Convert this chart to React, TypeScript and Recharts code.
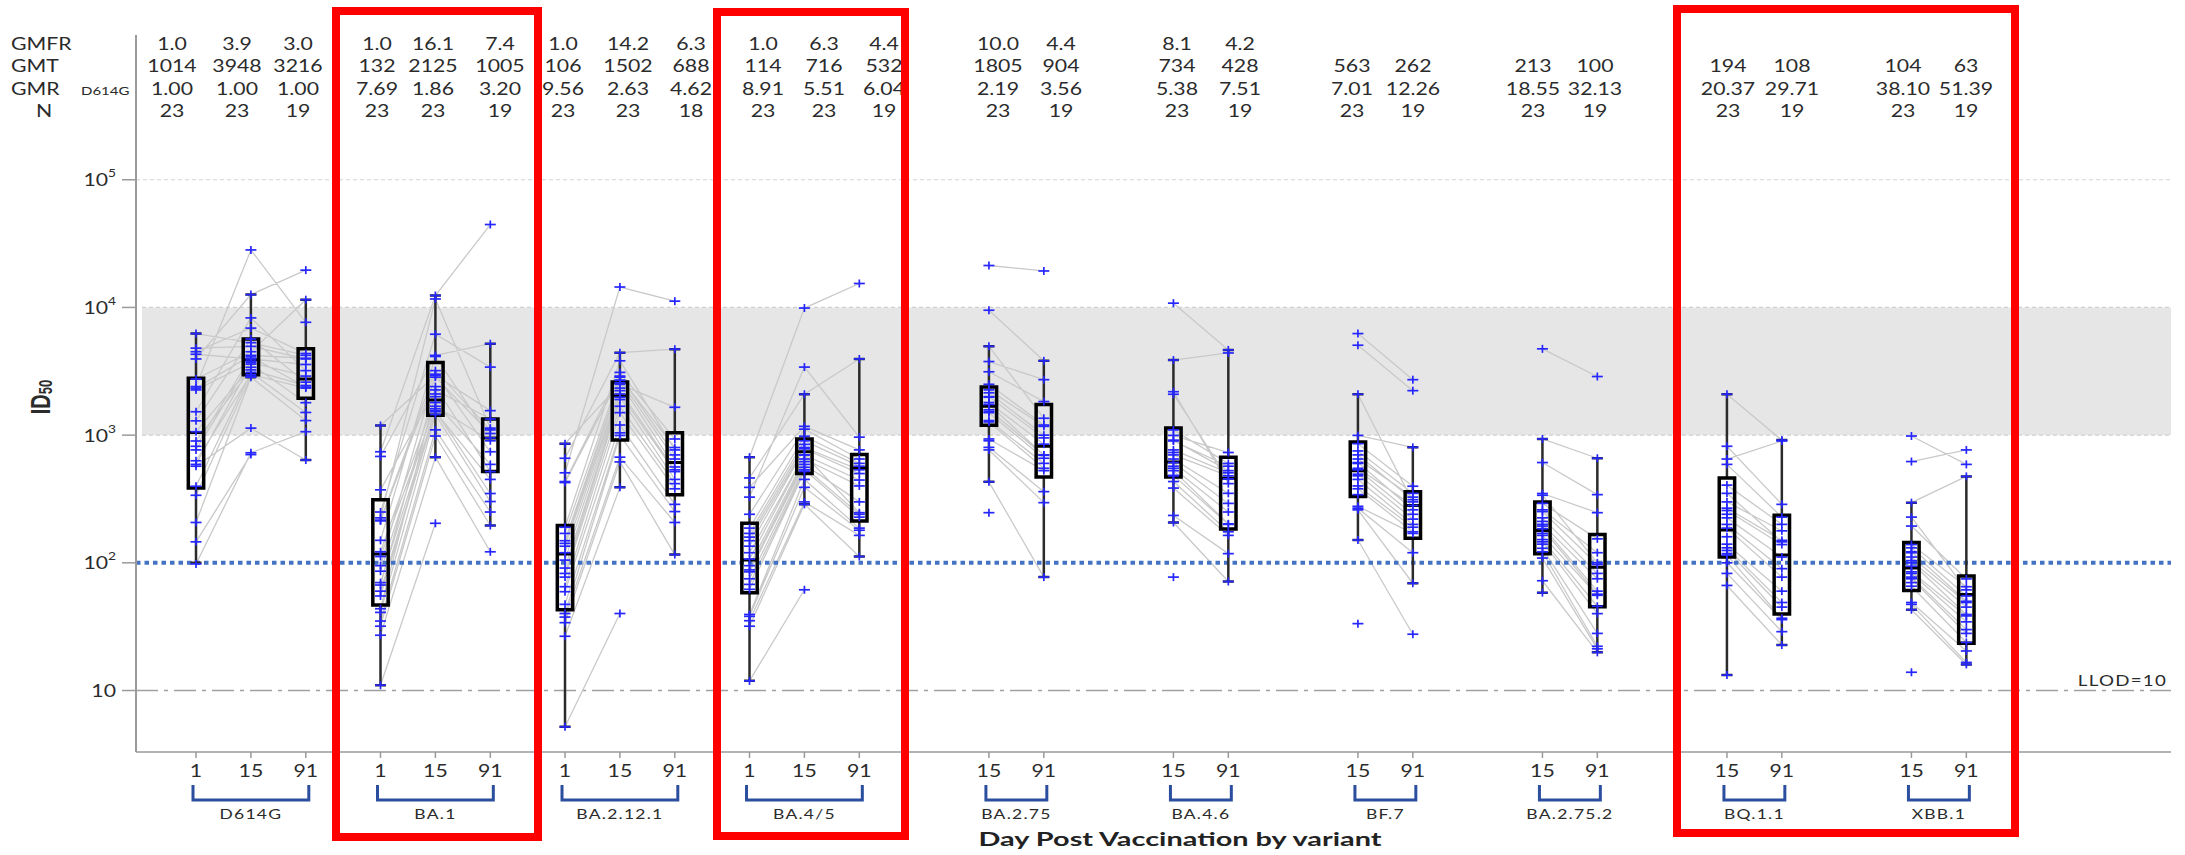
import React from 'react';
import { ComposedChart, XAxis, YAxis, Line, Scatter, Area } from 'recharts';

// variants and the days sampled for each one
const VARIANTS = ['D614G', 'BA.1', 'BA.2.12.1', 'BA.4/5', 'BA.2.75', 'BA.4.6', 'BF.7', 'BA.2.75.2', 'BQ.1.1', 'XBB.1'];
const DAYS = [[1, 15, 91], [1, 15, 91], [1, 15, 91], [1, 15, 91], [15, 91], [15, 91], [15, 91], [15, 91], [15, 91], [15, 91]];

// header table
const GMFR = [['1.0', '3.9', '3.0'], ['1.0', '16.1', '7.4'], ['1.0', '14.2', '6.3'], ['1.0', '6.3', '4.4'], ['10.0', '4.4'], ['8.1', '4.2'], ['', ''], ['', ''], ['', ''], ['', '']];
const GMT = [['1014', '3948', '3216'], ['132', '2125', '1005'], ['106', '1502', '688'], ['114', '716', '532'], ['1805', '904'], ['734', '428'], ['563', '262'], ['213', '100'], ['194', '108'], ['104', '63']];
const GMR = [['1.00', '1.00', '1.00'], ['7.69', '1.86', '3.20'], ['9.56', '2.63', '4.62'], ['8.91', '5.51', '6.04'], ['2.19', '3.56'], ['5.38', '7.51'], ['7.01', '12.26'], ['18.55', '32.13'], ['20.37', '29.71'], ['38.10', '51.39']];
const N_COUNT = [['23', '23', '19'], ['23', '23', '19'], ['23', '23', '18'], ['23', '23', '19'], ['23', '19'], ['23', '19'], ['23', '19'], ['23', '19'], ['23', '19'], ['23', '19']];

// box stats per variant/day: [min, q1, median, q3, max]
const BOXES = [
  [[100, 385, 1050, 2790, 6240], [2845, 2975, 3900, 5660, 12600], [638, 1945, 2750, 4740, 11500]],
  [[11, 46.7, 117, 312, 1190], [672, 1428, 1880, 3700, 12400], [196, 518, 951, 1337, 5200]],
  [[5.2, 42.9, 117, 196, 857], [390, 916, 2036, 2612, 4420], [116, 342, 610, 1042, 4710]],
  [[11.9, 58.4, 105, 204, 672], [287, 500, 741, 933, 2090], [112, 213, 552, 704, 3950]],
  [[431, 1197, 1683, 2380, 4960], [77.3, 469, 818, 1738, 3820]],
  [[207, 469, 617, 1135, 3870], [71.4, 184, 459, 672, 4650]],
  [[151, 331, 527, 885, 2090], [69.2, 156, 281, 361, 802]],
  [[58.4, 118, 179, 300, 933], [19.9, 45.2, 92.2, 167, 659]],
  [[13.2, 111, 181, 462, 2090], [22.7, 39.7, 115, 236, 914]],
  [[42.9, 60.7, 91, 144, 296], [16.0, 23.4, 56.4, 78.9, 475]],
];

// individual subjects (ID50 per day), null = not sampled
const D614G_SUBJ = [
  [6240, 5300, 4215], [4800, 4960, 3950], [4500, 6890, 4355], [4300, 3950, 3575], [3950, 12600, 19600],
  [2750, 4500, 11500], [2400, 28200, 7650], [2335, 4215, 4000], [2260, 3700, 2900], [1525, 8280, 3200],
  [1294, 5660, 2600], [1064, 3400, null], [900, 3245, 2445], [818, 4100, 2380], [766, 3800, null],
  [630, 2980, 2335], [590, 3600, 1795], [571, 1135, 638], [398, 3100, 1505], [338, 2900, null],
  [207, 2845, 1300], [146, 704, null], [98, 727, 1064],
];
const BA1_SUBJ = [
  [1190, 2935, 1555], [741, 12400, 44600], [681, 4215, 5200], [373, 2260, 1337], [250, 6170, 3410],
  [225, 11650, 1135], [216, 3200, 1099], [213, 2845, 1030], [150, 4130, 951], [122, 2000, null],
  [112, 1683, 903], [95, 3000, 741], [86, 1800, 590], [70, 1607, null], [67, 2400, 518],
  [60, 1525, 450], [55, 1550, 349], [43.7, 2100, null], [40.9, 1450, 302], [35, 1100, 250],
  [31.9, 984, 196], [27.1, 672, 122], [11, 204, null],
];
const BA2121_SUBJ = [
  [857, 2500, 1652], [659, 4420, 4710], [507, 14450, 11200], [433, 3100, 933], [425, 2845, 800],
  [190, 3820, 766], [170, 2900, 700], [149, 2700, 650], [142, 2577, 563], [135, 2335, null],
  [120, 2230, 535], [105, 2100, 518], [91, 1982, 450], [82.6, 1900, null], [77.3, 1683, 417],
  [65, 1500, 380], [59.4, 1200, 287], [47.3, 1042, null], [40.1, 995, 252], [37.6, 672, 207],
  [34, 617, 116], [26.6, 390, null], [5.2, 40.1, null],
];
const BA45_SUBJ = [
  [672, 9890, 15400], [462, 2090, 3950], [390, 1172, 766], [327, 3410, 964], [240, 1114, 650],
  [187, 980, 601], [170, 903, 571], [159, 846, null], [149, 800, 535], [135, 782, 500],
  [120, 700, 445], [107, 700, 247], [95, 650, 400], [88, 620, null], [85, 590, 300],
  [75, 560, 240], [67.8, 535, 228], [62, 520, null], [39.4, 450, 187], [38.1, 390, 180],
  [35.2, 300, 164], [31.9, 287, 112], [11.9, 61.5, null],
];
const BA275_SUBJ = [
  [21300, 19300], [9510, 3820], [4960, 1356], [3770, 2718], [3135, 1832], [2500, 1200], [2260, 1172],
  [2145, 1000], [2000, 951], [1982, null], [1800, 850], [1738, 700], [1577, 695], [1525, null],
  [1500, 659], [1300, 601], [1269, 550], [933, 527], [903, null], [802, 361], [766, 296], [431, 77.3], [247, null],
];
const BA46_SUBJ = [
  [10800, 4650], [3870, 4400], [2188, 417], [2090, 454], [1099, 600], [995, 731], [914, 527],
  [900, 571], [766, 507], [731, null], [700, 480], [650, 350], [610, 292], [571, null],
  [550, 250], [527, 202], [484, 200], [480, null], [433, 175], [385, 164], [235, 118], [207, 71.4], [77.3, null],
];
const BF7_SUBJ = [
  [6240, 2718], [5060, 2230], [2090, 300], [995, 802], [857, 398], [752, 350], [700, 312],
  [650, 327], [610, 260], [600, null], [550, 281], [535, 240], [494, 220], [480, null],
  [450, 200], [400, 190], [380, 175], [342, null], [277, 170], [268, 120], [260, 69.2], [151, 27.6], [33.4, null],
];
const BA2752_SUBJ = [
  [4740, 2877], [933, 659], [610, 342], [349, 247], [338, 100], [292, 154], [260, 120],
  [252, 97], [225, 82.6], [211, null], [200, 75], [194, 60], [185, 56.8], [170, null],
  [164, 55.7], [152, 45.7], [146, 40], [140, null], [130, 28], [122, 22.2], [109, 21.2], [72.4, 19.9], [58.4, null],
];
const BQ11_SUBJ = [
  [2090, 914], [818, 287], [650, 900], [590, 228], [406, 200], [350, 146], [300, 178],
  [268, 150], [257, 139], [240, null], [225, 111], [200, 90], [187, 77.3], [160, null],
  [140, 60], [131, 48.9], [125, 45], [118, null], [115, 36.8], [100, 35.9], [82.6, 28.9], [66.5, 22.7], [13.2, null],
];
const XBB1_SUBJ = [
  [984, 590], [621, 766], [296, 475], [228, 61.4], [194, 74.8], [139, 65], [131, 55],
  [122, 50], [120, null], [111, 48.9], [104, 45], [100, 39.4], [94, null], [85, 38.4],
  [82.6, 34.5], [77.3, 30], [75, 28], [70, null], [65.6, 23.8], [48.9, 20.4], [47.3, 16.6], [42.9, 16.0], [13.9, null],
];
const SUBJECTS = [D614G_SUBJ, BA1_SUBJ, BA2121_SUBJ, BA45_SUBJ, BA275_SUBJ, BA46_SUBJ, BF7_SUBJ, BA2752_SUBJ, BQ11_SUBJ, XBB1_SUBJ];

const Y_TICKS = [10, 100, 1000, 10000, 100000];

// layout
const W = 2185;
const H = 855;
const PLOT_L = 136;
const PLOT_R = 2171;
const PLOT_T = 35;
const PLOT_B = 752;
const U_MIN = -1.0929;
const U_MAX = 35.974;
const GROUP_STEP = 3.3607;
const BAND_START = -0.984;
const Y_DOMAIN = [3.3, 1.36e6];
const BOX_HALF = 0.14;
const CAP_HALF = 0.1;
const SX = 1.25;
const FONT = 'Lato, "Open Sans", sans-serif';
const TEXT = '#2b2b2b';
const HEADER_X = [[172, 237, 298], [377, 433, 500], [563, 628, 691], [763, 824, 884], [998, 1061], [1177, 1240], [1352, 1413], [1533, 1595], [1728, 1792], [1903, 1966]];

const pos = (g: number, i: number) => g * GROUP_STEP + i + (3 - DAYS[g].length);
const toPx = (u: number) => PLOT_L + ((u - U_MIN) / (U_MAX - U_MIN)) * (PLOT_R - PLOT_L);
const key = (u: number) => u.toFixed(3);

const dayLabel = new Map<string, string>();
const xTicks: number[] = [];
DAYS.forEach((days, g) => days.forEach((d, i) => {
  xTicks.push(pos(g, i));
  dayLabel.set(key(pos(g, i)), String(d));
}));

// grey paired lines, one run per subject, broken with nulls
const pairData: any[] = [];
const markerData: any[] = [];
SUBJECTS.forEach((rows, g) => {
  rows.forEach((row) => {
    const pts = row.map((v, i) => (v == null ? null : { x: pos(g, i), y: v })).filter(Boolean) as any[];
    pts.forEach((p) => { pairData.push(p); markerData.push(p); });
    pairData.push({ x: pts[pts.length - 1].x, y: null });
  });
});

const boxData: any[] = [];
const medianData: any[] = [];
const whiskerData: any[] = [];
BOXES.forEach((boxes, g) => boxes.forEach(([mn, q1, md, q3, mx], i) => {
  const u = pos(g, i);
  const a = u - BOX_HALF;
  const b = u + BOX_HALF;
  boxData.push({ x: a, y: q1 }, { x: b, y: q1 }, { x: b, y: q3 }, { x: a, y: q3 }, { x: a, y: q1 }, { x: a, y: null });
  medianData.push({ x: a, y: md }, { x: b, y: md }, { x: b, y: null });
  whiskerData.push(
    { x: u, y: q3 }, { x: u, y: mx }, { x: u, y: null },
    { x: u, y: q1 }, { x: u, y: mn }, { x: u, y: null },
    { x: u - CAP_HALF, y: mx }, { x: u + CAP_HALF, y: mx }, { x: u, y: null },
    { x: u - CAP_HALF, y: mn }, { x: u + CAP_HALF, y: mn }, { x: u, y: null },
  );
}));

const hLine = (y: number, from = U_MIN) => [{ x: from, y }, { x: U_MAX, y }];
const bandData = [{ x: BAND_START, band: [1000, 10000] }, { x: U_MAX, band: [1000, 10000] }];

function T({ x, y, anchor = 'middle', size = 17, weight = 400, fill = TEXT, ls = 0, children }: any) {
  return (
    <text
      transform={`translate(${x} ${y}) scale(${SX} 1)`}
      textAnchor={anchor}
      dominantBaseline="central"
      fontFamily={FONT}
      fontSize={size}
      fontWeight={weight}
      fill={fill}
      letterSpacing={ls}
    >
      {children}
    </text>
  );
}

const XTick = ({ x, y, payload }: any) => (
  <T x={x} y={y + 10} size={17}>{dayLabel.get(key(payload.value))}</T>
);

const YTick = ({ x, y, payload }: any) => {
  const exp = Math.round(Math.log10(payload.value));
  return (
    <T x={x} y={y} anchor="end" size={17}>
      10
      {exp > 1 && <tspan dy={-7} fontSize={11}>{exp}</tspan>}
    </T>
  );
};

const Plus = ({ cx, cy }: any) => (
  <g stroke="#2626ff" strokeWidth={1.7}>
    <line x1={cx - 5.5} y1={cy} x2={cx + 5.5} y2={cy} />
    <line x1={cx} y1={cy - 4} x2={cx} y2={cy + 4} />
  </g>
);

const HEADER_ROWS = [
  { label: 'GMFR', y: 43, values: GMFR },
  { label: 'GMT', y: 65, values: GMT },
  { label: 'GMR', y: 88, values: GMR },
  { label: 'N', y: 110, values: N_COUNT },
];

const RED_BOXES = [
  { left: 332, top: 7, width: 210, height: 834 },
  { left: 713, top: 8, width: 196, height: 832 },
  { left: 1673, top: 5, width: 346, height: 832 },
];

export default function App() {
  return (
    <div style={{ position: 'absolute', left: 0, top: 0, width: W, height: H, overflow: 'hidden', background: '#fff' }}>
      <ComposedChart
        width={W}
        height={H}
        margin={{ top: PLOT_T, right: W - PLOT_R, left: PLOT_L - 60, bottom: H - PLOT_B - 40 }}
      >
        <XAxis
          dataKey="x"
          type="number"
          domain={[U_MIN, U_MAX]}
          allowDataOverflow
          ticks={xTicks}
          interval={0}
          height={40}
          tick={(p: any) => <XTick {...p} />}
          tickSize={6}
          tickLine={{ stroke: '#9a9a9a', strokeWidth: 1.5 }}
          axisLine={{ stroke: '#9a9a9a', strokeWidth: 1.5 }}
        />
        <YAxis
          type="number"
          scale="log"
          domain={Y_DOMAIN}
          allowDataOverflow
          ticks={Y_TICKS}
          interval={0}
          width={60}
          tickSize={14}
          tickMargin={6}
          tick={(p: any) => <YTick {...p} />}
          tickLine={{ stroke: '#9a9a9a', strokeWidth: 1.5 }}
          axisLine={{ stroke: '#9a9a9a', strokeWidth: 2 }}
        />
        <Area data={bandData} dataKey="band" type="linear" stroke="none" fill="#e6e6e6" fillOpacity={1} isAnimationActive={false} dot={false} activeDot={false} />
        <Line data={hLine(100000)} dataKey="y" stroke="#d4d4d4" strokeWidth={1.2} strokeDasharray="4 3" dot={false} activeDot={false} isAnimationActive={false} />
        <Line data={hLine(10000, BAND_START)} dataKey="y" stroke="#d0d0d0" strokeWidth={1.2} strokeDasharray="4 3" dot={false} activeDot={false} isAnimationActive={false} />
        <Line data={hLine(1000, BAND_START)} dataKey="y" stroke="#d0d0d0" strokeWidth={1.2} strokeDasharray="4 3" dot={false} activeDot={false} isAnimationActive={false} />
        <Line data={hLine(10)} dataKey="y" stroke="#a0a0a0" strokeWidth={1.5} strokeDasharray="22 6 4 6" dot={false} activeDot={false} isAnimationActive={false} />
        <Line data={pairData} dataKey="y" stroke="#c9c9c9" strokeWidth={1.3} dot={false} activeDot={false} isAnimationActive={false} />
        <Line data={hLine(100)} dataKey="y" stroke="#4472c4" strokeWidth={4} strokeDasharray="4.5 4" dot={false} activeDot={false} isAnimationActive={false} />
        <Scatter data={markerData} dataKey="y" shape={(p: any) => <Plus cx={p.cx} cy={p.cy} />} isAnimationActive={false} />
        <Line data={whiskerData} dataKey="y" stroke="#2b2b2b" strokeWidth={2.5} dot={false} activeDot={false} isAnimationActive={false} />
        <Line data={boxData} dataKey="y" stroke="#000" strokeWidth={3.5} strokeLinecap="square" strokeLinejoin="miter" dot={false} activeDot={false} isAnimationActive={false} />
        <Line data={medianData} dataKey="y" stroke="#000" strokeWidth={3} dot={false} activeDot={false} isAnimationActive={false} />
      </ComposedChart>

      <svg width={W} height={H} style={{ position: 'absolute', left: 0, top: 0, pointerEvents: 'none' }}>
        {HEADER_ROWS.map((row) => (
          <g key={row.label}>
            <T x={row.label === 'N' ? 44 : 11} y={row.y} anchor={row.label === 'N' ? 'middle' : 'start'}>{row.label}</T>
            {row.values.map((vals, g) => vals.map((v, i) => (
              <T key={`${g}-${i}`} x={HEADER_X[g][i]} y={row.y}>{v}</T>
            )))}
          </g>
        ))}
        <T x={81} y={91} anchor="start" size={12}>D614G</T>

        <text
          transform="translate(40 397) rotate(-90) scale(1 1.35)"
          textAnchor="middle"
          dominantBaseline="central"
          fontFamily='"Liberation Sans Narrow", "Liberation Sans", sans-serif'
          fontWeight={700}
          fontSize={20}
          fill={TEXT}
        >
          ID<tspan fontSize={13} dy={4}>50</tspan>
        </text>

        <T x={2167} y={680} anchor="end" size={15} ls={1}>LLOD=10</T>

        {VARIANTS.map((name, g) => {
          const a = toPx(pos(g, 0)) - 3;
          const b = toPx(pos(g, DAYS[g].length - 1)) + 3;
          return (
            <g key={name}>
              <path d={`M${a},785 V800 H${b} V785`} fill="none" stroke="#2b4f9e" strokeWidth={3} />
              <T x={(a + b) / 2} y={813} size={14} ls={1}>{name}</T>
            </g>
          );
        })}

        <text
          x={1180}
          y={839}
          textAnchor="middle"
          dominantBaseline="central"
          fontFamily={FONT}
          fontWeight={700}
          fontSize={18}
          fill="#222"
          textLength={403}
          lengthAdjust="spacingAndGlyphs"
        >
          Day Post Vaccination by variant
        </text>
      </svg>

      {RED_BOXES.map((r, i) => (
        <div
          key={i}
          style={{ position: 'absolute', left: r.left, top: r.top, width: r.width, height: r.height, border: '8px solid #ff0000', boxSizing: 'border-box' }}
        />
      ))}
    </div>
  );
}
